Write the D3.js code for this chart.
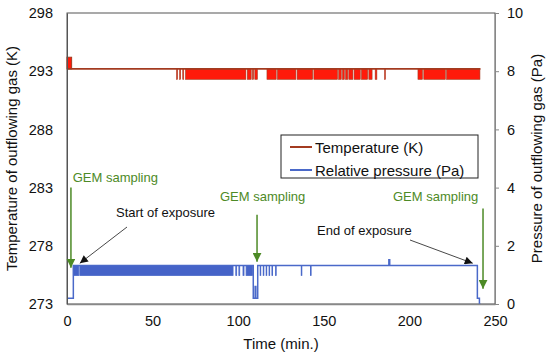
<!DOCTYPE html>
<html>
<head>
<meta charset="utf-8">
<script src="https://cdn.jsdelivr.net/npm/d3@7"></script>
<style>
  body { margin: 0; background: #fff; }
  svg { display: block; font-family: "Liberation Sans", Arial, sans-serif; }
</style>
</head>
<body>
<div id="chart"></div>
<script>
// x 轴刻度与两侧 y 轴刻度
const timeTicks = [0, 50, 100, 150, 200, 250];
const tempTicks = [273, 278, 283, 288, 293, 298];
const pressTicks = [0, 2, 4, 6, 8, 10];

// 温度：基线、波动下沿、开始时的上沿
const tempBase = 293.2, tempLow = 292.3, tempHigh = 294.2;
const tempLine = [[0, 293.2], [241.5, 293.2]];
const tempHighSpans = [[0, 2.7]];
const tempDipSpans = [
  [64.0, 64.6], [65.8, 66.4], [67.6, 68.2], [69.2, 104.5], [105.3, 107.6],
  [108.3, 109.0], [109.7, 111.2], [116.8, 122.2], [122.9, 133.7], [134.4, 143.5],
  [144.2, 158.0], [158.7, 160.2], [160.9, 162.0], [162.7, 164.0], [164.6, 167.0],
  [167.7, 171.3], [172.0, 175.6], [176.3, 178.2], [180.0, 181.0], [185.5, 186.0],
  [205.0, 207.6], [208.4, 221.0], [221.7, 241.2]
];

// 相对压力：阶梯线与密集波动区
const pressBase = 1.32, pressLow = 0.98;
const pressLine = [
  [0, 0.2], [3.7, 1.32], [108.8, 0.2], [109.9, 0.6], [110.3, 0.2], [111.4, 1.32],
  [188.0, 1.52], [188.5, 1.32], [239.7, 0.2], [240.9, 0], [241.5, 0]
];
const pressDipSpans = [
  [3.7, 6.9], [7.5, 97.0], [98.6, 99.1], [100.4, 100.9], [102.8, 103.4],
  [104.6, 108.4], [112.8, 113.2], [114.6, 115.0], [116.3, 116.7], [118.0, 118.4],
  [119.7, 120.1], [121.8, 122.2], [136.8, 137.2], [142.2, 142.6]
];

const W = 550, H = 357;
const m = {left: 67, top: 13, right: 55, bottom: 53};
const tempColor = '#a33b20', bandRed = '#ff1a0a';
const pressColor = '#4a69c9', bandBlue = '#4563c8';
const green = '#4d8a26';

const svg = d3.select('#chart').append('svg').attr('width', W).attr('height', H);

const x = d3.scaleLinear().domain([0, 250]).range([m.left, W - m.right]);
const yT = d3.scaleLinear().domain([273, 298]).range([H - m.bottom, m.top]);
const yP = d3.scaleLinear().domain([0, 10]).range([H - m.bottom, m.top]);

// 外框
svg.append('rect')
  .attr('x', x(0)).attr('y', yT(298))
  .attr('width', x(250) - x(0)).attr('height', yT(273) - yT(298))
  .attr('fill', 'none').attr('stroke', '#555').attr('stroke-width', 1);

// 温度波动区
svg.append('g').selectAll('rect').data(tempDipSpans).join('rect')
  .attr('x', d => x(d[0])).attr('width', d => x(d[1]) - x(d[0]))
  .attr('y', yT(tempBase)).attr('height', yT(tempLow) - yT(tempBase))
  .attr('fill', bandRed).attr('stroke', tempColor).attr('stroke-width', 0.6);
svg.append('g').selectAll('rect').data(tempHighSpans).join('rect')
  .attr('x', d => x(d[0])).attr('width', d => x(d[1]) - x(d[0]))
  .attr('y', yT(tempHigh)).attr('height', yT(tempBase) - yT(tempHigh))
  .attr('fill', bandRed).attr('stroke', tempColor).attr('stroke-width', 1);
svg.append('path').datum(tempLine)
  .attr('d', d3.line().x(d => x(d[0])).y(d => yT(d[1])).curve(d3.curveStepAfter))
  .attr('fill', 'none').attr('stroke', tempColor).attr('stroke-width', 1.8);

// 压力波动区
svg.append('g').selectAll('rect').data(pressDipSpans).join('rect')
  .attr('x', d => x(d[0])).attr('width', d => x(d[1]) - x(d[0]))
  .attr('y', yP(pressBase)).attr('height', yP(pressLow) - yP(pressBase))
  .attr('fill', bandBlue).attr('stroke', pressColor).attr('stroke-width', 0.8);
svg.append('path').datum(pressLine)
  .attr('d', d3.line().x(d => x(d[0])).y(d => yP(d[1])).curve(d3.curveStepAfter))
  .attr('fill', 'none').attr('stroke', pressColor).attr('stroke-width', 1.5);

// 坐标轴
const xAxis = svg.append('g').attr('transform', `translate(0,${yT(273)})`)
  .call(d3.axisBottom(x).tickValues(timeTicks).tickSize(0).tickPadding(12));
xAxis.select('.domain').attr('stroke', '#888').attr('stroke-width', 1.5);
xAxis.selectAll('text').attr('font-size', 14.5).attr('fill', '#111').attr('font-family', null);

const yAxisL = svg.append('g').attr('transform', `translate(${x(0)},0)`)
  .call(d3.axisLeft(yT).tickValues(tempTicks).tickSize(0).tickPadding(14));
yAxisL.select('.domain').attr('stroke', '#555');
yAxisL.selectAll('text').attr('font-size', 14.5).attr('fill', '#111').attr('font-family', null);

const yAxisR = svg.append('g').attr('transform', `translate(${x(250)},0)`)
  .call(d3.axisRight(yP).tickValues(pressTicks).tickSize(4).tickPadding(8));
yAxisR.selectAll('.domain, line').attr('stroke', '#888');
yAxisR.selectAll('text').attr('font-size', 14.5).attr('fill', '#111').attr('font-family', null);

// 轴标题
svg.append('text').attr('transform', `translate(17,${yT(285.5)}) rotate(-90)`)
  .attr('text-anchor', 'middle').attr('font-size', 15).attr('fill', '#111')
  .text('Temperature of outflowing gas (K)');
svg.append('text').attr('transform', `translate(542,${yP(5)}) rotate(-90)`)
  .attr('text-anchor', 'middle').attr('font-size', 15).attr('fill', '#111')
  .text('Pressure of outflowing gas (Pa)');
svg.append('text').attr('x', x(125)).attr('y', 349)
  .attr('text-anchor', 'middle').attr('font-size', 15).attr('fill', '#111')
  .text('Time (min.)');

// 图例
const lg = svg.append('g');
lg.append('rect').attr('x', 281).attr('y', 135).attr('width', 197).attr('height', 43)
  .attr('fill', '#fff').attr('stroke', '#222').attr('stroke-width', 1);
[['Temperature (K)', tempColor, 147], ['Relative pressure (Pa)', pressColor, 170]].forEach(function(r){
  lg.append('line').attr('x1', 290).attr('x2', 312).attr('y1', r[2]).attr('y2', r[2])
    .attr('stroke', r[1]).attr('stroke-width', 2);
  lg.append('text').attr('x', 315).attr('y', r[2] + 5.5).attr('font-size', 15)
    .attr('fill', '#111').text(r[0]);
});

// 箭头标记
const defs = svg.append('defs');
defs.append('marker').attr('id', 'headBlack').attr('viewBox', '0 0 10 10')
  .attr('refX', 10).attr('refY', 5).attr('markerWidth', 10).attr('markerHeight', 8)
  .attr('markerUnits', 'userSpaceOnUse').attr('orient', 'auto')
  .append('path').attr('d', 'M0,0L10,5L0,10Z').attr('fill', '#111');
defs.append('marker').attr('id', 'headGreen').attr('viewBox', '0 0 10 10')
  .attr('refX', 10).attr('refY', 5).attr('markerWidth', 9).attr('markerHeight', 9)
  .attr('markerUnits', 'userSpaceOnUse').attr('orient', 'auto')
  .append('path').attr('d', 'M0,0L10,5L0,10Z').attr('fill', green);

// GEM sampling 标注
const gem = [
  {t: 2.3, top: 4.0, bot: 1.25, lx: 72.7, ly: 181.5},
  {t: 111, top: 3.07, bot: 1.45, lx: 220, ly: 201},
  {t: 243, top: 3.28, bot: 0.52, lx: 393, ly: 201}
];
gem.forEach(function(g){
  svg.append('line').attr('x1', x(g.t)).attr('x2', x(g.t))
    .attr('y1', yP(g.top)).attr('y2', yP(g.bot))
    .attr('stroke', green).attr('stroke-width', 1.5).attr('marker-end', 'url(#headGreen)');
  svg.append('text').attr('x', g.lx).attr('y', g.ly).attr('font-size', 13)
    .attr('fill', green).text('GEM sampling');
});

// 暴露开始/结束标注
svg.append('text').attr('x', 116).attr('y', 216.5).attr('font-size', 13).attr('fill', '#111')
  .text('Start of exposure');
svg.append('line').attr('x1', 127).attr('y1', 227).attr('x2', x(7.5)).attr('y2', yP(1.4))
  .attr('stroke', '#333').attr('stroke-width', 0.9).attr('marker-end', 'url(#headBlack)');
svg.append('text').attr('x', 317).attr('y', 234.5).attr('font-size', 13).attr('fill', '#111')
  .text('End of exposure');
svg.append('line').attr('x1', 410).attr('y1', 240).attr('x2', x(237)).attr('y2', yP(1.4))
  .attr('stroke', '#333').attr('stroke-width', 0.9).attr('marker-end', 'url(#headBlack)');
</script>
</body>
</html>
